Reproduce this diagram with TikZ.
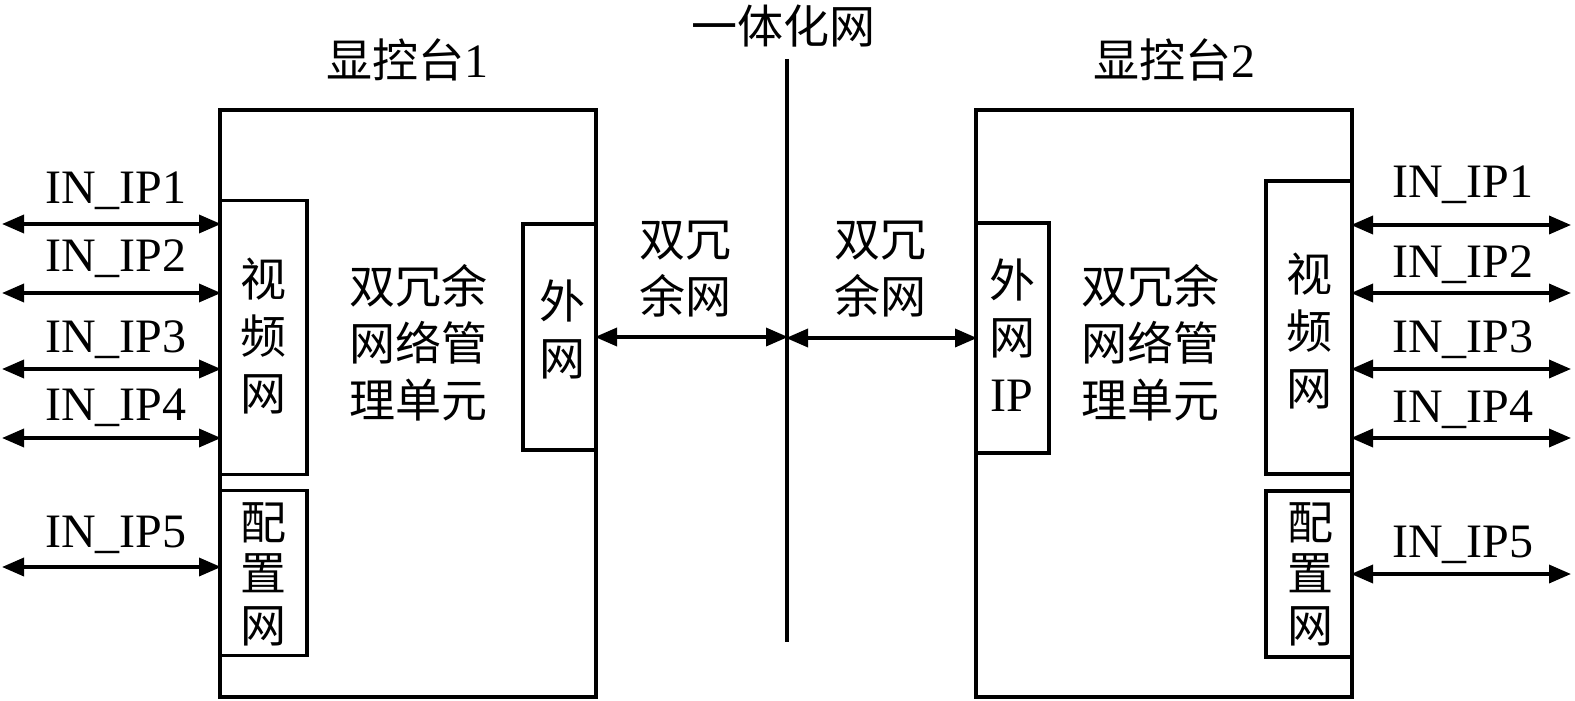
\documentclass[tikz,border=0pt]{standalone}
\usepackage{fontspec}
\setmainfont{Liberation Serif}
\newfontfamily\cjk{Noto Sans CJK SC}
\usetikzlibrary{arrows.meta}
\begin{document}
\begin{tikzpicture}[x=1pt,y=-1pt,
  line width=3.5pt,
  box/.style={draw, line width=3.5pt, inner sep=0pt, outer sep=0pt},
  txt/.style={inner sep=0pt, outer sep=0pt, align=center, font=\fontsize{46}{57}\selectfont\cjk},
  lat/.style={inner sep=0pt, outer sep=0pt, anchor=base, font=\fontsize{48}{57}\selectfont},
  dbl/.style={line width=3.5pt, {Triangle[length=22pt,width=18pt]}-{Triangle[length=22pt,width=18pt]}, shorten <=-1pt, shorten >=-1pt},
  plain/.style={line width=3.5pt}
]
\useasboundingbox (0,0) rectangle (1575,701);
% ---------- big boxes ----------
\node[box, minimum width=376pt, minimum height=587pt] (con1) at (408,403.5) {};
\node[box, minimum width=376pt, minimum height=587pt] (con2) at (1164,403.5) {};
% ---------- inner boxes, left ----------
\node[box, minimum width=87pt, minimum height=274pt] (vid1) at (263.5,337.5) {};
\node[box, minimum width=87pt, minimum height=165pt] (cfg1) at (263.5,573) {};
\node[box, minimum width=73pt, minimum height=226pt] (ext1) at (559.5,337) {};
% ---------- inner boxes, right ----------
\node[box, minimum width=86pt, minimum height=293pt] (vid2) at (1309,327.5) {};
\node[box, minimum width=86pt, minimum height=166pt] (cfg2) at (1309,574) {};
\node[box, minimum width=73pt, minimum height=230pt] (ext2) at (1012.5,338) {};
% ---------- titles ----------
\node[txt] (t1) at (407,60) {显控台\fontspec{Liberation Serif}\fontsize{48}{57}\selectfont 1};
\node[txt] (t2) at (1174,60) {显控台\fontspec{Liberation Serif}\fontsize{48}{57}\selectfont 2};
\node[txt] (tm) at (783,26) {一体化网};
% ---------- box texts ----------
\node[txt] (vt1) at (263,336) {视\\频\\网};
\node[txt, font=\fontsize{46}{51.5}\selectfont\cjk] (ct1) at (263,574) {配\\置\\网};
\node[txt] (et1) at (562,329) {外\\网};
\node[txt] (mt1) at (418,342.5) {双冗余\\网络管\\理单元};
\node[txt] (vt2) at (1309,331.5) {视\\频\\网};
\node[txt, font=\fontsize{46}{51.5}\selectfont\cjk] (ct2) at (1310,574) {配\\置\\网};
\node[txt] (et2) at (1012,335) {外\\网\\\fontspec{Liberation Serif}\fontsize{48}{57}\selectfont IP};
\node[txt] (mt2) at (1150,342.5) {双冗余\\网络管\\理单元};
\node[txt] (rl) at (685,269) {双冗\\余网};
\node[txt] (rr) at (880,269) {双冗\\余网};
% ---------- central divider ----------
\coordinate (mtop) at (787,59);
\coordinate (mbot) at (787,642);
\draw[plain] (mtop) -- (mbot);
\draw[dbl] (ext1.east) -- (ext1.east -| mtop);
\draw[dbl] (ext2.west -| mtop) -- (ext2.west);
% ---------- left inputs ----------
\foreach \i/\y/\b in {1/224/203, 2/293/271, 3/369/352, 4/438/420, 5/567/547}{
  \coordinate (la\i) at (3,\y);
  \draw[dbl] (la\i) -- (la\i -| con1.west);
  \node[lat] (ll\i) at (116,\b) {IN\_IP\i};
}
% ---------- right inputs ----------
\foreach \i/\y/\b in {1/225/197, 2/293/277, 3/369/352, 4/438/422, 5/574/557}{
  \coordinate (ra\i) at (1570,\y);
  \draw[dbl] (ra\i -| con2.east) -- (ra\i);
  \node[lat] (rl\i) at (1463,\b) {IN\_IP\i};
}
\end{tikzpicture}
\end{document}
